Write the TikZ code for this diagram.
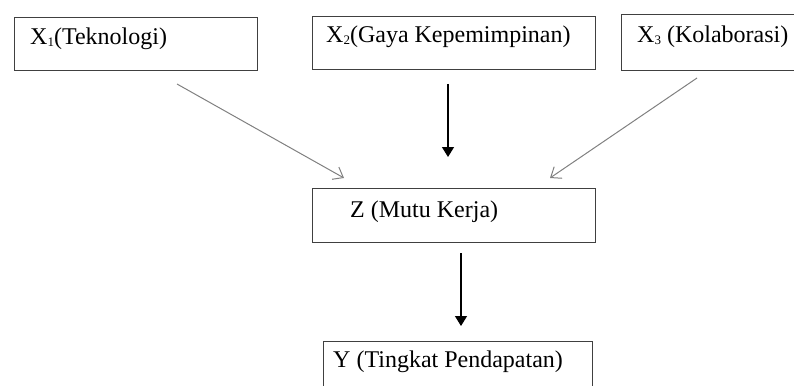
\documentclass[tikz,border=0pt]{standalone}
\usepackage{fontspec}
\setmainfont{Liberation Serif}
\usetikzlibrary{arrows.meta}
\newcommand\lowdig[1]{\raisebox{-1.5pt}{\fontsize{13}{13}\selectfont #1}}
\begin{document}
\begin{tikzpicture}[x=1pt,y=-1pt,
  box/.style={draw=black!75, line width=1.2pt, rectangle, inner sep=0pt, anchor=north west},
  lbl/.style={anchor=base west, inner sep=0pt, font=\fontsize{24}{28}\selectfont},
  thin arrow/.style={draw=black!50, line width=1pt, -{Straight Barb[length=9pt,width=14pt,line width=1pt]}},
  bold arrow/.style={draw=black, line width=1.3pt, -{Triangle[length=10pt,width=12pt]}}]
\useasboundingbox (0,0) rectangle (794,385);
\clip (0,0) rectangle (794,385);
% boxes
\node[box, minimum width=243pt, minimum height=53pt] (x1) at (14,17) {};
\node[box, minimum width=283pt, minimum height=53pt] (x2) at (312,16) {};
\node[box, minimum width=190pt, minimum height=56pt] (x3) at (621,14) {};
\node[box, minimum width=283pt, minimum height=54pt] (z) at (312,188) {};
\node[box, minimum width=269pt, minimum height=60pt] (y) at (323,341) {};
% texts
\node[lbl] (x1t) at (30,45) {X\lowdig{1}(Teknologi)};
\node[lbl] (x2t) at (326,43) {X\lowdig{2}(Gaya Kepemimpinan)};
\node[lbl] (x3t) at (637,43) {X\lowdig{3} (Kolaborasi)};
\node[lbl] (zt) at (350,217) {Z (Mutu Kerja)};
\node[lbl] (yt) at (333,367) {Y (Tingkat Pendapatan)};
% connector ends
\coordinate (a1s) at (177,84);
\coordinate (a1e) at (344,178);
\coordinate (a2s) at (448,84);
\coordinate (a2e) at (448,157);
\coordinate (a3s) at (697,78);
\coordinate (a3e) at (550,178);
\coordinate (a4s) at (461,253);
\coordinate (a4e) at (461,326);
% connectors
\draw[thin arrow] (a1s) -- (a1e);
\draw[bold arrow] (a2s) -- (a2e);
\draw[thin arrow] (a3s) -- (a3e);
\draw[bold arrow] (a4s) -- (a4e);
\end{tikzpicture}
\end{document}
